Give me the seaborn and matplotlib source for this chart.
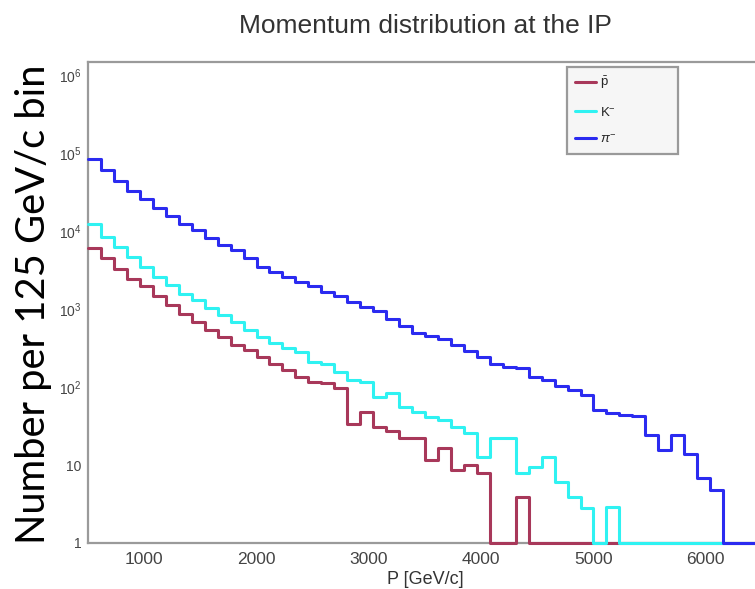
import numpy as np
import pandas as pd
import matplotlib
matplotlib.use("Agg")
import matplotlib.pyplot as plt
import seaborn as sns
from matplotlib.lines import Line2D
from matplotlib.ticker import MultipleLocator, LogLocator, FuncFormatter, NullFormatter, FixedLocator

# ---------------- data ----------------
p_min, p_max, n_bins = 500.0, 6500.0, 52

pbar = [6000, 4470, 3300, 2450, 1950, 1450, 1120, 870, 690, 540, 440, 350, 295,
        240, 200, 166, 135, 117, 112, 96, 34, 48, 31, 27, 22, 22, 11.6, 16.3, 8.6,
        10, 7.8, 0, 0, 3.9] + [0] * 18
kminus = [12300, 8500, 6300, 4700, 3470, 2570, 2040, 1580, 1320, 1020, 830, 690,
          540, 440, 365, 316, 284, 210, 200, 158, 123, 117, 75, 83, 56, 48, 41.5,
          38, 31, 25.5, 12.8, 22, 22, 7.8, 9.5, 12.8, 6.1, 3.9, 2.8, 0, 2.9] + [0] * 11
piminus = [83000, 60000, 44000, 33000, 25700, 20000, 15500, 12300, 10200, 8100,
           6600, 5750, 4470, 3470, 3020, 2570, 2240, 1950, 1660, 1450, 1230, 1070,
           930, 740, 600, 500, 450, 408, 346, 293, 245, 195, 182, 173, 135, 123,
           103, 91, 79, 51, 46, 44, 42.5, 24, 15.5, 24, 14, 6.8, 4.8, 0, 0, 0]

species = [r"$\bar{\mathrm{p}}$", r"$\mathrm{K}^{-}$", r"$\pi^{-}$"]
colors = ["#a8385a", "#2ff2f2", "#2b2bf0"]

title = "Momentum distribution at the IP"
xlabel = "P [GeV/c]"
ylabel = "Number per 125 GeV/c bin"
x_major = [1000, 2000, 3000, 4000, 5000, 6000]
y_range = (1.0, 1.47e6)

# ---------------- build table ----------------
edges = np.linspace(p_min, p_max, n_bins + 1)
centers = 0.5 * (edges[:-1] + edges[1:])
df = pd.DataFrame({
    "P": np.tile(centers, 3),
    "N": np.concatenate([pbar, kminus, piminus]).astype(float),
    "species": np.repeat(species, n_bins),
})
# empty bins are drawn on the axis floor, as ROOT does on a log axis
df["N_drawn"] = df["N"].clip(lower=y_range[0])

# ---------------- style ----------------
sns.set_style("white")
plt.rcParams["font.family"] = ["Liberation Sans", "DejaVu Sans"]
plt.rcParams["mathtext.fontset"] = "custom"
plt.rcParams["mathtext.rm"] = "Liberation Sans"
plt.rcParams["mathtext.it"] = "Liberation Sans:italic"
plt.rcParams["mathtext.bf"] = "Liberation Sans:bold"

fig = plt.figure(figsize=(7.55, 5.89), dpi=100)
W, H = 755.0, 589.0
ax = fig.add_axes([88 / W, 1 - 543 / H, 674 / W, 481 / H])

for sp, col in zip(species, colors):
    sub = df[df["species"] == sp]
    sns.histplot(data=sub, x="P", weights="N_drawn", bins=edges.tolist(),
                 element="step", fill=False, color=col, linewidth=2.2,
                 clip_on=False, zorder=3, ax=ax)

ax.set_yscale("log")
ax.set_xlim(p_min, p_max)
ax.set_ylim(*y_range)

# axes frame
for s in ["left", "bottom", "top", "right"]:
    ax.spines[s].set_color("#9a9a9a")
    ax.spines[s].set_linewidth(1.6)

ax.xaxis.set_major_locator(FixedLocator(x_major))
ax.xaxis.set_minor_locator(MultipleLocator(200))
ax.yaxis.set_major_locator(LogLocator(base=10, numticks=20))
ax.yaxis.set_minor_locator(LogLocator(base=10, subs=np.arange(2, 10), numticks=20))
ax.yaxis.set_minor_formatter(NullFormatter())


def yfmt(v, pos):
    n = int(round(np.log10(v)))
    if n == 0:
        return "1"
    if n == 1:
        return "10"
    return r"$\mathdefault{10^{%d}}$" % n


ax.yaxis.set_major_formatter(FuncFormatter(yfmt))

ax.tick_params(axis="x", which="major", direction="in", length=9.5, width=1.1,
               color="#8a8a8a", labelsize=12.5, labelcolor="#444444", pad=6.5,
               top=False)
ax.tick_params(axis="x", which="minor", direction="in", length=5, width=1.0,
               color="#8a8a8a", top=False)
ax.tick_params(axis="y", which="major", direction="in", length=15, width=1.1,
               color="#8a8a8a", labelsize=10, labelcolor="#444444", pad=4.5,
               right=False)
ax.tick_params(axis="y", which="minor", direction="in", length=8, width=1.0,
               color="#8a8a8a", right=False)

ax.set_xlabel(xlabel, fontsize=13, color="#333333", labelpad=3)
ax.set_ylabel("")
ax.set_title(title, fontsize=19, color="#333333", pad=21)

handles = [Line2D([], [], color=c, lw=2.2) for c in colors]
leg = ax.legend(handles, species, loc="upper left",
                bbox_to_anchor=(0.711, 0.99, 0.164, 0.0), mode="expand",
                fontsize=9.5, frameon=True, fancybox=False, framealpha=1,
                facecolor="#f6f6f6", edgecolor="#9a9a9a", borderpad=0.6,
                labelspacing=1.1, handlelength=1.6, handletextpad=0.3,
                borderaxespad=0)
leg.get_frame().set_linewidth(1.6)

# y-axis label (large slide-style caption)
fig.text(34 / W, 1 - 544 / H, ylabel, rotation=90, ha="center", va="bottom",
         fontsize=28.7, family=["Lato", "DejaVu Sans"], color="black", zorder=10)

fig.savefig("out.png", dpi=100, facecolor="white")
